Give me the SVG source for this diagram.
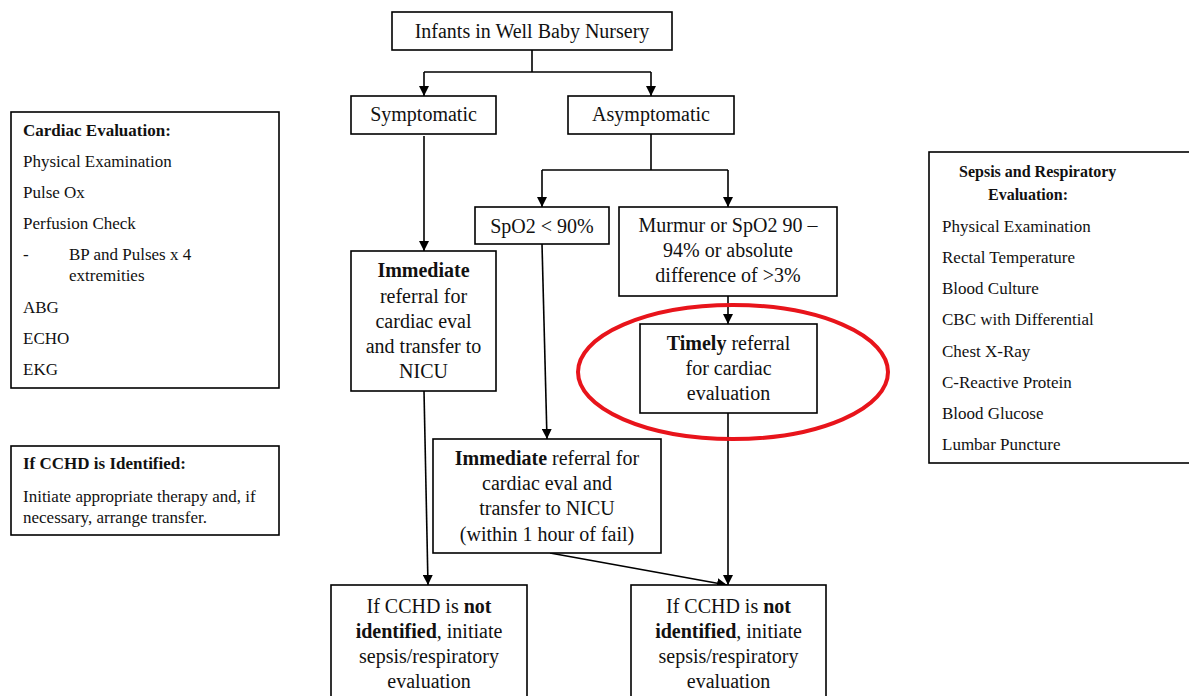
<svg xmlns="http://www.w3.org/2000/svg" width="1189" height="696" viewBox="0 0 1189 696">
<defs>
<marker id="arr" viewBox="0 0 10 10" refX="10" refY="5" markerWidth="10" markerHeight="10" markerUnits="userSpaceOnUse" orient="auto">
<path d="M0,0 L10,5 L0,10 z" fill="#000"/>
</marker>
<style>
.box{fill:#fff;stroke:#000;stroke-width:1.6}
.t{font-family:"Liberation Serif","Times New Roman",serif;font-size:20px;fill:#111}
.c{text-anchor:middle}
.s{font-family:"Liberation Serif","Times New Roman",serif;font-size:17px;fill:#111}
.b{font-weight:bold}
.ln{fill:none;stroke:#000;stroke-width:1.6}
.ar{fill:none;stroke:#000;stroke-width:1.6;marker-end:url(#arr)}
</style>
</defs>
<rect width="1189" height="696" fill="#fff"/>

<g id="connectors">
<path class="ln" d="M532,50 V72 M424,72 H651"/>
<path class="ar" d="M424,72 V96"/>
<path class="ar" d="M651,72 V96"/>
<path class="ar" d="M424,136 V251"/>
<path class="ln" d="M651,134 V170 M542,170 H728"/>
<path class="ar" d="M542,170 V207"/>
<path class="ar" d="M728,170 V207"/>
<path class="ar" d="M542,244 L547,439"/>
<path class="ar" d="M728,296 V324"/>
<path class="ar" d="M424,391 L428,585"/>
<path class="ar" d="M728,413 V585"/>
<path class="ar" d="M550,553 L727,585"/>
</g>

<g id="n-top">
<rect class="box" x="392" y="12" width="280" height="38"/>
<text class="t c" x="532" y="38">Infants in Well Baby Nursery</text>
</g>

<g id="n-symptomatic">
<rect class="box" x="351" y="96" width="145" height="38"/>
<text class="t c" x="423.5" y="121">Symptomatic</text>
</g>

<g id="n-asymptomatic">
<rect class="box" x="568" y="96" width="166" height="38"/>
<text class="t c" x="651" y="121">Asymptomatic</text>
</g>

<g id="n-spo2-low">
<rect class="box" x="475" y="207" width="134" height="37"/>
<text class="t c" x="542" y="233">SpO2 &lt; 90%</text>
</g>

<g id="n-murmur">
<rect class="box" x="619" y="207" width="218" height="89"/>
<text class="t c" x="728" y="232">Murmur or SpO2 90 –</text>
<text class="t c" x="728" y="257">94% or absolute</text>
<text class="t c" x="728" y="282">difference of &gt;3%</text>
</g>

<g id="n-immediate-left">
<rect class="box" x="351" y="251" width="145" height="140"/>
<text class="t c b" x="423.5" y="277">Immediate</text>
<text class="t c" x="423.5" y="303">referral for</text>
<text class="t c" x="423.5" y="328">cardiac eval</text>
<text class="t c" x="423.5" y="353">and transfer to</text>
<text class="t c" x="423.5" y="378">NICU</text>
</g>

<g id="n-timely">
<rect class="box" x="640" y="324" width="177" height="89"/>
<text class="t c" x="728.5" y="350"><tspan class="b">Timely</tspan> referral</text>
<text class="t c" x="728.5" y="375">for cardiac</text>
<text class="t c" x="728.5" y="400">evaluation</text>
</g>

<g id="highlight">
<ellipse cx="733" cy="372" rx="155" ry="67" fill="none" stroke="#e8141b" stroke-width="4"/>
</g>

<g id="n-immediate-mid">
<rect class="box" x="433" y="439" width="228" height="114"/>
<text class="t c" x="547" y="465"><tspan class="b">Immediate</tspan> referral for</text>
<text class="t c" x="547" y="490">cardiac eval and</text>
<text class="t c" x="547" y="515">transfer to NICU</text>
<text class="t c" x="547" y="541">(within 1 hour of fail)</text>
</g>

<g id="n-bottom-left">
<rect class="box" x="331" y="585" width="196" height="120"/>
<text class="t c" x="429" y="613">If CCHD is <tspan class="b">not</tspan></text>
<text class="t c" x="429" y="638"><tspan class="b">identified</tspan>, initiate</text>
<text class="t c" x="429" y="663">sepsis/respiratory</text>
<text class="t c" x="429" y="688">evaluation</text>
</g>

<g id="n-bottom-right">
<rect class="box" x="631" y="585" width="195" height="120"/>
<text class="t c" x="728.5" y="613">If CCHD is <tspan class="b">not</tspan></text>
<text class="t c" x="728.5" y="638"><tspan class="b">identified</tspan>, initiate</text>
<text class="t c" x="728.5" y="663">sepsis/respiratory</text>
<text class="t c" x="728.5" y="688">evaluation</text>
</g>

<g id="n-cardiac-eval">
<rect class="box" x="11" y="112" width="268" height="276"/>
<text class="s b" x="23" y="136">Cardiac Evaluation:</text>
<text class="s" x="23" y="167">Physical Examination</text>
<text class="s" x="23" y="198">Pulse Ox</text>
<text class="s" x="23" y="229">Perfusion Check</text>
<text class="s" x="23" y="260">-</text>
<text class="s" x="69" y="260">BP and Pulses x 4</text>
<text class="s" x="69" y="281">extremities</text>
<text class="s" x="23" y="313">ABG</text>
<text class="s" x="23" y="344">ECHO</text>
<text class="s" x="23" y="375">EKG</text>
</g>

<g id="n-cchd-identified">
<rect class="box" x="11" y="446" width="268" height="89"/>
<text class="s b" x="23" y="469">If CCHD is Identified:</text>
<text class="s" x="23" y="502">Initiate appropriate therapy and, if</text>
<text class="s" x="23" y="523">necessary, arrange transfer.</text>
</g>

<g id="n-sepsis-eval">
<rect class="box" x="929" y="152" width="265" height="311"/>
<text class="s b" x="959" y="177" style="font-size:16px">Sepsis and Respiratory</text>
<text class="s b" x="988" y="200" style="font-size:16px">Evaluation:</text>
<text class="s" x="942" y="232">Physical Examination</text>
<text class="s" x="942" y="263">Rectal Temperature</text>
<text class="s" x="942" y="294">Blood Culture</text>
<text class="s" x="942" y="325">CBC with Differential</text>
<text class="s" x="942" y="357">Chest X-Ray</text>
<text class="s" x="942" y="388">C-Reactive Protein</text>
<text class="s" x="942" y="419">Blood Glucose</text>
<text class="s" x="942" y="450">Lumbar Puncture</text>
</g>
</svg>
